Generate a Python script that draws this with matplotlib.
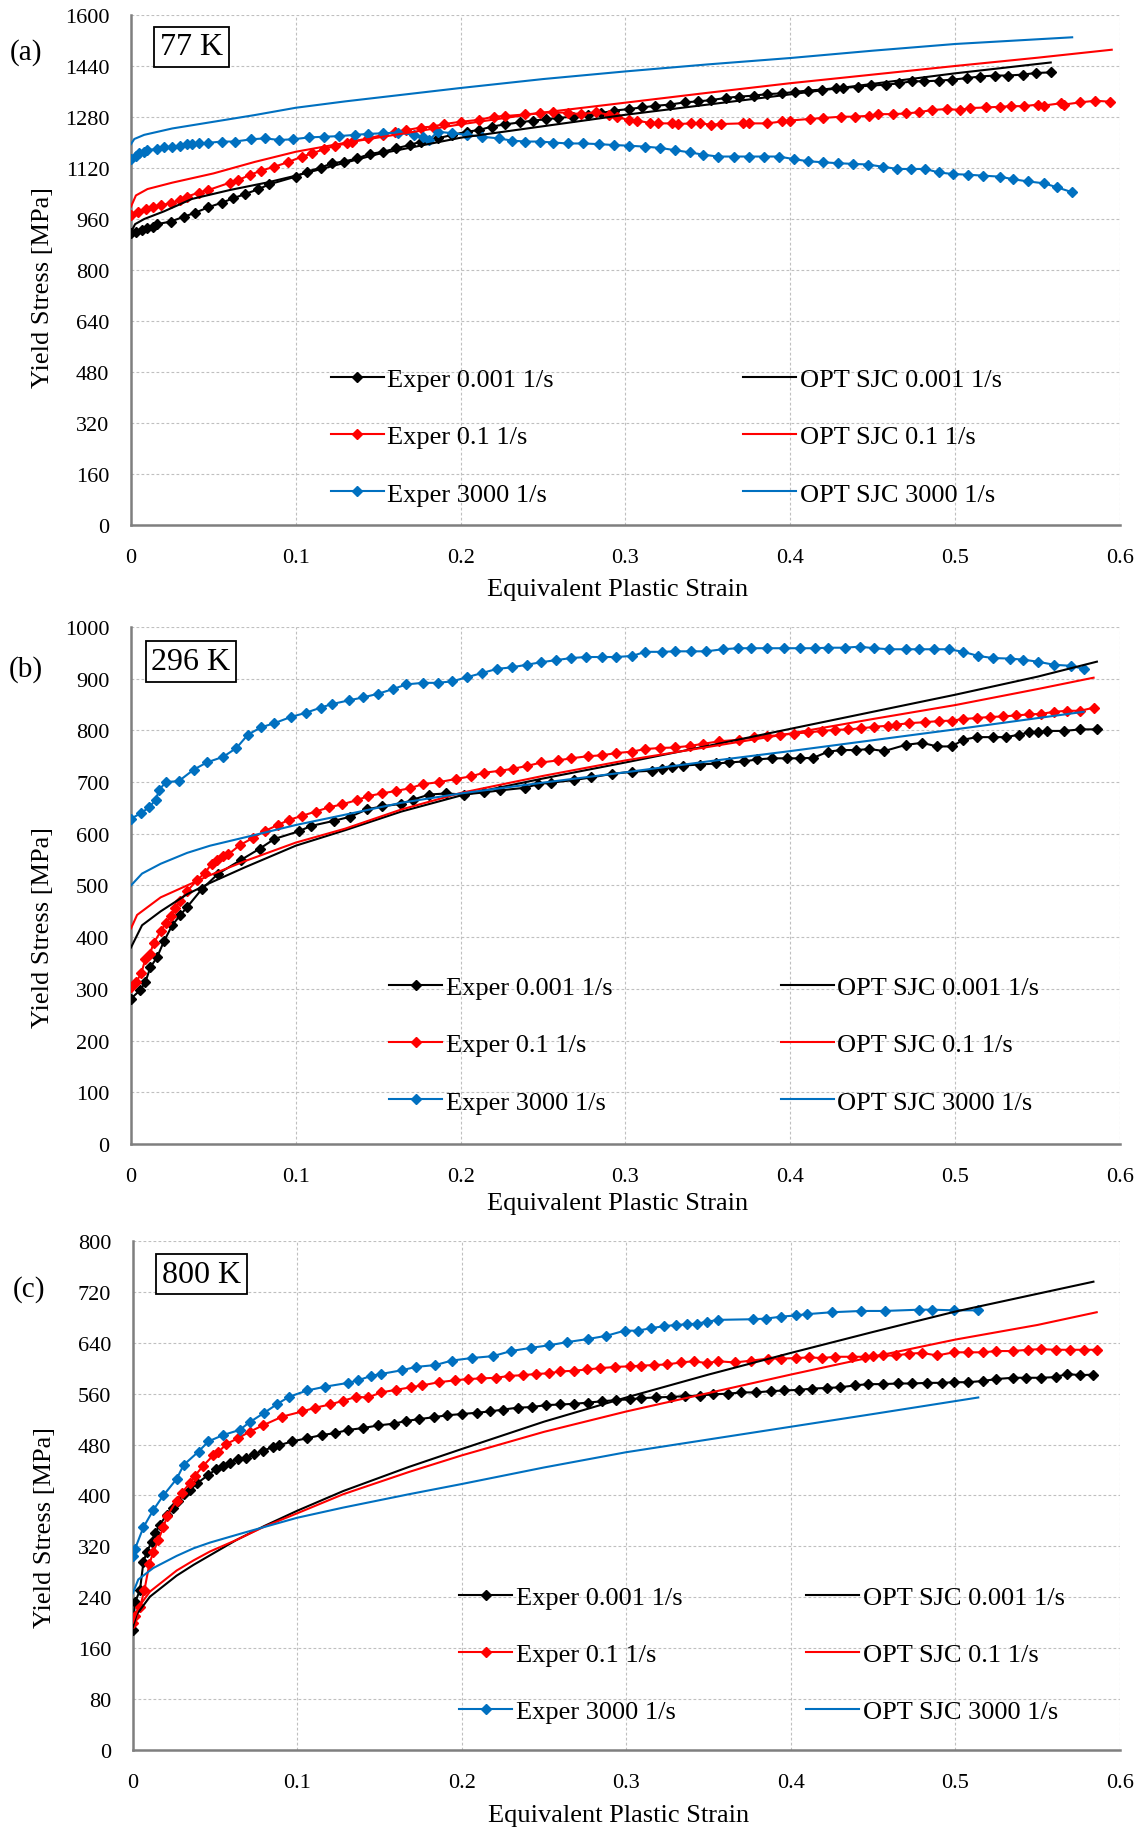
import matplotlib
matplotlib.use('Agg')
import matplotlib.pyplot as plt

plt.rcParams['font.family'] = ['Liberation Serif', 'DejaVu Serif']

# ---------------- data ----------------
xtick_vals = [0, 0.1, 0.2, 0.3, 0.4, 0.5, 0.6]
xtick_labels = ['0', '0.1', '0.2', '0.3', '0.4', '0.5', '0.6']

series_names = ['Exper 0.001 1/s', 'Exper 0.1 1/s', 'Exper 3000 1/s',
                'OPT SJC 0.001 1/s', 'OPT SJC 0.1 1/s', 'OPT SJC 3000 1/s']

# (a) 77 K
a_exp001_x = [0, 0.003, 0.0065, 0.01, 0.0135, 0.016, 0.024, 0.032, 0.039, 0.047, 0.055, 0.062, 0.069, 0.077, 0.084,
              0.1, 0.107, 0.115, 0.122, 0.129, 0.137, 0.145, 0.153, 0.161, 0.169, 0.176, 0.186, 0.195, 0.204, 0.211,
              0.219, 0.227, 0.236, 0.244, 0.252, 0.259, 0.268, 0.277, 0.285, 0.293, 0.302, 0.31, 0.318, 0.327, 0.336,
              0.344, 0.352, 0.361, 0.369, 0.378, 0.386, 0.395, 0.403, 0.411, 0.419, 0.428, 0.432, 0.441, 0.449, 0.458,
              0.466, 0.474, 0.481, 0.49, 0.498, 0.507, 0.515, 0.524, 0.532, 0.541, 0.549, 0.558]
a_exp001_y = [916, 921, 926, 932, 937, 945, 953, 968, 981, 998, 1012, 1026, 1039, 1054, 1070,
              1094, 1110, 1122, 1136, 1141, 1151, 1165, 1172, 1183, 1193, 1204, 1214, 1225, 1235, 1240,
              1251, 1258, 1264, 1270, 1274, 1278, 1282, 1287, 1293, 1301, 1306, 1311, 1316, 1320, 1327,
              1330, 1334, 1341, 1345, 1348, 1353, 1355, 1360, 1364, 1367, 1372, 1372, 1376, 1380, 1382,
              1387, 1393, 1393, 1395, 1398, 1403, 1408, 1411, 1411, 1414, 1419, 1421]
a_exp01_x = [0, 0.004, 0.009, 0.0135, 0.018, 0.024, 0.03, 0.034, 0.041, 0.047, 0.06, 0.065, 0.072, 0.079, 0.087,
             0.095, 0.104, 0.11, 0.117, 0.124, 0.131, 0.134, 0.144, 0.153, 0.16, 0.167, 0.176, 0.183, 0.19, 0.2,
             0.211, 0.22, 0.227, 0.239, 0.248, 0.256, 0.265, 0.273, 0.282, 0.29, 0.295, 0.302, 0.307, 0.315, 0.32,
             0.328, 0.332, 0.34, 0.345, 0.352, 0.358, 0.371, 0.375, 0.386, 0.395, 0.4, 0.412, 0.42, 0.431, 0.439,
             0.448, 0.453, 0.462, 0.47, 0.478, 0.486, 0.495, 0.503, 0.509, 0.519, 0.527, 0.534, 0.542, 0.55, 0.554,
             0.564, 0.566, 0.576, 0.585, 0.594]
a_exp01_y = [974, 984, 994, 1000, 1005, 1010, 1021, 1031, 1044, 1052, 1075, 1083, 1099, 1113, 1125,
             1139, 1157, 1167, 1180, 1191, 1198, 1204, 1214, 1225, 1235, 1240, 1248, 1251, 1259, 1266,
             1272, 1282, 1284, 1289, 1293, 1296, 1294, 1290, 1296, 1288, 1280, 1272, 1270, 1262, 1261,
             1261, 1259, 1261, 1261, 1257, 1259, 1261, 1261, 1261, 1267, 1270, 1275, 1278, 1282, 1282,
             1285, 1290, 1290, 1292, 1296, 1303, 1306, 1303, 1309, 1311, 1313, 1315, 1315, 1320, 1317,
             1324, 1320, 1327, 1332, 1329]
a_exp3000_x = [0, 0.003, 0.005, 0.008, 0.01, 0.016, 0.02, 0.025, 0.03, 0.034, 0.037, 0.041, 0.047, 0.055, 0.063,
               0.073, 0.081, 0.09, 0.098, 0.108, 0.117, 0.126, 0.136, 0.144, 0.153, 0.162, 0.172, 0.177, 0.181,
               0.186, 0.195, 0.204, 0.213, 0.223, 0.231, 0.239, 0.248, 0.256, 0.265, 0.274, 0.284, 0.293, 0.302,
               0.312, 0.321, 0.33, 0.339, 0.347, 0.356, 0.366, 0.375, 0.384, 0.393, 0.402, 0.411, 0.42, 0.429,
               0.438, 0.447, 0.456, 0.465, 0.473, 0.482, 0.49, 0.499, 0.508, 0.517, 0.527, 0.535, 0.544, 0.554,
               0.562, 0.571]
a_exp3000_y = [1148, 1159, 1167, 1172, 1178, 1180, 1186, 1188, 1190, 1195, 1196, 1198, 1200, 1204, 1204,
               1211, 1214, 1209, 1211, 1217, 1219, 1221, 1225, 1228, 1230, 1232, 1225, 1219, 1209,
               1235, 1230, 1225, 1219, 1214, 1207, 1204, 1204, 1201, 1198, 1198, 1196, 1193, 1191,
               1188, 1184, 1177, 1170, 1163, 1157, 1157, 1157, 1157, 1157, 1149, 1142, 1139, 1136,
               1134, 1132, 1125, 1118, 1118, 1118, 1107, 1102, 1100, 1097, 1094, 1086, 1079, 1073,
               1060, 1045]
a_opt001_x = [0, 0.0025, 0.008, 0.02, 0.037, 0.06, 0.083, 0.1, 0.15, 0.2, 0.25, 0.3, 0.35, 0.4, 0.45, 0.5, 0.558]
a_opt001_y = [920, 945, 961, 985, 1024, 1052, 1076, 1097, 1165, 1216, 1252, 1288, 1320, 1352, 1385, 1418, 1452]
a_opt01_x = [0, 0.003, 0.01, 0.025, 0.05, 0.075, 0.1, 0.13, 0.16, 0.2, 0.25, 0.3, 0.35, 0.4, 0.45, 0.5, 0.55, 0.595]
a_opt01_y = [1000, 1035, 1055, 1075, 1104, 1140, 1172, 1200, 1225, 1258, 1295, 1326, 1357, 1387, 1414, 1441, 1467, 1492]
a_opt3000_x = [0, 0.002, 0.008, 0.025, 0.05, 0.075, 0.1, 0.13, 0.15, 0.2, 0.25, 0.3, 0.35, 0.4, 0.45, 0.5, 0.571]
a_opt3000_y = [1196, 1212, 1225, 1245, 1266, 1287, 1310, 1330, 1342, 1372, 1400, 1424, 1446, 1466, 1489, 1510, 1531]

# (b) 296 K
b_exp001_x = [0, 0.0057, 0.0087, 0.0118, 0.0158, 0.02, 0.025, 0.03, 0.034, 0.043, 0.053, 0.067, 0.078, 0.087,
              0.102, 0.109, 0.123, 0.133, 0.143, 0.152, 0.164, 0.171, 0.181, 0.191, 0.202, 0.214, 0.224, 0.239,
              0.247, 0.255, 0.269, 0.279, 0.292, 0.304, 0.316, 0.322, 0.328, 0.335, 0.345, 0.355, 0.363, 0.372,
              0.38, 0.389, 0.398, 0.406, 0.414, 0.423, 0.431, 0.44, 0.448, 0.457, 0.47, 0.48, 0.489, 0.498,
              0.505, 0.513, 0.523, 0.531, 0.539, 0.545, 0.55, 0.556, 0.566, 0.576, 0.586]
b_exp001_y = [281, 298, 313, 342, 361, 392, 423, 443, 458, 493, 523, 550, 571, 590,
              605, 615, 625, 633, 647, 653, 658, 666, 676, 678, 676, 680, 684, 689,
              696, 699, 704, 709, 716, 720, 722, 726, 729, 732, 734, 736, 738, 740,
              744, 746, 746, 746, 747, 759, 762, 762, 764, 760, 772, 776, 769, 769,
              782, 787, 787, 787, 792, 796, 796, 799, 799, 802, 802]
b_exp01_x = [0, 0.003, 0.0063, 0.0087, 0.0114, 0.0138, 0.018, 0.021, 0.024, 0.027, 0.03, 0.034, 0.04, 0.045,
             0.049, 0.052, 0.056, 0.059, 0.066, 0.074, 0.081, 0.089, 0.096, 0.104, 0.112, 0.12, 0.128, 0.137,
             0.144, 0.152, 0.161, 0.169, 0.177, 0.187, 0.197, 0.206, 0.214, 0.224, 0.232, 0.24, 0.249, 0.259,
             0.267, 0.277, 0.286, 0.294, 0.304, 0.312, 0.321, 0.33, 0.339, 0.347, 0.357, 0.369, 0.378, 0.386,
             0.394, 0.402, 0.411, 0.419, 0.427, 0.435, 0.443, 0.451, 0.459, 0.464, 0.472, 0.482, 0.49, 0.498,
             0.505, 0.513, 0.521, 0.529, 0.537, 0.545, 0.552, 0.56, 0.568, 0.576, 0.584]
b_exp01_y = [303, 313, 330, 358, 367, 389, 411, 427, 440, 457, 470, 489, 510, 525,
             542, 550, 557, 560, 578, 592, 605, 617, 627, 635, 643, 651, 657, 665,
             673, 678, 683, 688, 696, 700, 706, 711, 718, 722, 726, 731, 738, 742,
             746, 750, 752, 756, 759, 764, 766, 767, 770, 774, 779, 782, 787, 789,
             791, 794, 796, 799, 801, 802, 804, 807, 809, 811, 814, 816, 818, 819,
             822, 824, 826, 827, 829, 831, 832, 836, 838, 838, 844]
b_exp3000_x = [0, 0.006, 0.011, 0.015, 0.017, 0.021, 0.029, 0.038, 0.046, 0.056, 0.064, 0.071, 0.079, 0.087,
               0.097, 0.106, 0.115, 0.122, 0.132, 0.141, 0.15, 0.159, 0.167, 0.177, 0.186, 0.195, 0.204, 0.213,
               0.222, 0.231, 0.24, 0.249, 0.258, 0.267, 0.276, 0.286, 0.294, 0.304, 0.312, 0.322, 0.33, 0.34,
               0.349, 0.359, 0.368, 0.376, 0.386, 0.396, 0.406, 0.415, 0.423, 0.433, 0.442, 0.451, 0.46, 0.47,
               0.478, 0.487, 0.496, 0.505, 0.514, 0.523, 0.533, 0.541, 0.55, 0.56, 0.57, 0.578]
b_exp3000_y = [629, 640, 651, 666, 684, 700, 702, 724, 738, 749, 766, 792, 806, 814,
               826, 834, 844, 851, 858, 864, 871, 880, 889, 892, 892, 895, 903, 911,
               919, 922, 927, 932, 936, 940, 942, 942, 942, 944, 952, 952, 953, 953,
               953, 957, 959, 959, 959, 959, 959, 959, 960, 960, 962, 959, 957, 957,
               957, 957, 957, 952, 944, 940, 939, 937, 933, 927, 925, 919]
b_opt001_x = [0, 0.0067, 0.018, 0.034, 0.048, 0.069, 0.1, 0.13, 0.164, 0.2, 0.25, 0.3, 0.35, 0.4, 0.45, 0.5, 0.55, 0.586]
b_opt001_y = [380, 423, 450, 483, 505, 535, 577, 607, 643, 674, 707, 738, 770, 803, 836, 869, 904, 933]
b_opt01_x = [0, 0.0037, 0.018, 0.034, 0.048, 0.069, 0.1, 0.13, 0.164, 0.2, 0.25, 0.3, 0.35, 0.4, 0.45, 0.5, 0.55, 0.584]
b_opt01_y = [417, 443, 477, 500, 520, 547, 583, 610, 647, 679, 712, 742, 768, 794, 822, 849, 880, 902]
b_opt3000_x = [0, 0.0067, 0.018, 0.034, 0.048, 0.069, 0.1, 0.13, 0.164, 0.2, 0.25, 0.3, 0.35, 0.4, 0.45, 0.5, 0.578]
b_opt3000_y = [500, 523, 542, 563, 577, 593, 617, 637, 660, 678, 699, 719, 740, 760, 781, 802, 836]

# (c) 800 K
c_exp001_x = [0, 0.0014, 0.0044, 0.0065, 0.0085, 0.0115, 0.0135, 0.0166, 0.0206, 0.0242, 0.0277, 0.031, 0.0347,
              0.039, 0.0459, 0.0505, 0.055, 0.059, 0.064, 0.069, 0.074, 0.079, 0.085, 0.089, 0.097, 0.106, 0.115,
              0.123, 0.131, 0.14, 0.149, 0.159, 0.166, 0.174, 0.183, 0.191, 0.2, 0.209, 0.217, 0.225, 0.234,
              0.243, 0.251, 0.26, 0.268, 0.277, 0.285, 0.294, 0.302, 0.309, 0.318, 0.327, 0.336, 0.345, 0.353,
              0.362, 0.37, 0.379, 0.388, 0.396, 0.405, 0.413, 0.422, 0.43, 0.439, 0.447, 0.456, 0.465, 0.474,
              0.483, 0.492, 0.499, 0.508, 0.517, 0.525, 0.535, 0.543, 0.552, 0.561, 0.568, 0.576, 0.584]
c_exp001_y = [189, 232, 251, 295, 311, 327, 341, 354, 370, 381, 392, 403, 408,
              419, 432, 441, 446, 451, 458, 459, 465, 470, 476, 479, 485, 490, 495,
              498, 503, 506, 510, 513, 517, 520, 523, 526, 528, 530, 532, 535, 538,
              539, 542, 543, 544, 546, 548, 550, 551, 553, 554, 555, 556, 557, 559,
              560, 562, 562, 564, 565, 566, 568, 569, 570, 573, 575, 575, 576, 576,
              577, 577, 578, 578, 580, 583, 585, 585, 585, 586, 591, 589, 590]
c_exp01_x = [0, 0.0014, 0.0044, 0.0071, 0.0101, 0.0125, 0.0156, 0.0186, 0.021, 0.0267, 0.0297, 0.0347, 0.0378,
             0.043, 0.0489, 0.052, 0.057, 0.064, 0.071, 0.079, 0.091, 0.103, 0.111, 0.12, 0.128, 0.136, 0.143,
             0.151, 0.16, 0.169, 0.176, 0.186, 0.196, 0.204, 0.212, 0.221, 0.229, 0.237, 0.245, 0.253, 0.26,
             0.268, 0.276, 0.284, 0.293, 0.302, 0.309, 0.317, 0.325, 0.333, 0.341, 0.349, 0.356, 0.366, 0.376,
             0.386, 0.394, 0.403, 0.411, 0.419, 0.427, 0.437, 0.445, 0.45, 0.456, 0.464, 0.472, 0.48, 0.489,
             0.499, 0.508, 0.517, 0.525, 0.535, 0.544, 0.552, 0.561, 0.57, 0.578, 0.586]
c_exp01_y = [200, 211, 224, 251, 292, 311, 330, 350, 368, 392, 404, 419, 431,
             447, 463, 468, 481, 490, 500, 510, 524, 532, 538, 543, 549, 555, 554,
             562, 566, 570, 573, 578, 581, 583, 584, 585, 588, 589, 591, 592, 595,
             596, 598, 600, 602, 603, 604, 605, 606, 609, 611, 608, 611, 609, 612,
             615, 615, 616, 617, 616, 618, 618, 618, 619, 620, 620, 623, 624, 620,
             625, 625, 625, 627, 627, 629, 630, 629, 629, 629, 629]
c_exp3000_x = [0, 0.0014, 0.0065, 0.0125, 0.0186, 0.0267, 0.031, 0.04, 0.046, 0.055, 0.065, 0.071, 0.08, 0.088,
               0.095, 0.106, 0.117, 0.131, 0.137, 0.145, 0.151, 0.164, 0.172, 0.184, 0.194, 0.206, 0.219, 0.23,
               0.242, 0.253, 0.264, 0.277, 0.288, 0.299, 0.307, 0.315, 0.323, 0.33, 0.337, 0.343, 0.349, 0.356,
               0.377, 0.385, 0.394, 0.403, 0.41, 0.425, 0.443, 0.457, 0.478, 0.486, 0.499, 0.514]
c_exp3000_y = [305, 316, 350, 377, 400, 426, 448, 469, 485, 495, 503, 515, 530, 544,
               555, 565, 571, 577, 581, 588, 591, 597, 602, 605, 612, 616, 619, 627,
               632, 636, 641, 646, 651, 659, 659, 663, 666, 668, 669, 670, 673, 676,
               677, 678, 681, 683, 685, 688, 690, 690, 692, 692, 691, 691]
c_opt001_x = [0, 0.0024, 0.0105, 0.0267, 0.037, 0.047, 0.063, 0.08, 0.1, 0.128, 0.168, 0.2, 0.25, 0.3, 0.35, 0.4,
              0.45, 0.5, 0.55, 0.584]
c_opt001_y = [192, 213, 241, 274, 291, 306, 330, 352, 376, 407, 445, 473, 516, 554, 590, 624, 657, 689, 717, 736]
c_opt01_x = [0, 0.0034, 0.0105, 0.0267, 0.037, 0.047, 0.063, 0.08, 0.1, 0.128, 0.168, 0.2, 0.25, 0.3, 0.35, 0.4,
             0.45, 0.5, 0.55, 0.586]
c_opt01_y = [200, 224, 249, 282, 298, 312, 330, 351, 372, 402, 437, 463, 500, 532, 561, 590, 618, 645, 668, 688]
c_opt3000_x = [0, 0.0034, 0.0125, 0.0267, 0.037, 0.047, 0.067, 0.1, 0.128, 0.168, 0.2, 0.25, 0.3, 0.35, 0.4,
               0.45, 0.514]
c_opt3000_y = [246, 268, 286, 305, 317, 326, 341, 365, 381, 402, 418, 444, 468, 488, 508, 528, 554]

# ---------------- styling / layout ----------------
colors = ['#000000', '#FF0000', '#0070C0']

panels = [
    dict(tag='(a)', temp='77 K', ymax=1600, ystep=160,
         exp=[(a_exp001_x, a_exp001_y), (a_exp01_x, a_exp01_y), (a_exp3000_x, a_exp3000_y)],
         opt=[(a_opt001_x, a_opt001_y), (a_opt01_x, a_opt01_y), (a_opt3000_x, a_opt3000_y)],
         rect=[0.1145, 0.7125, 0.8645, 0.2786], tagpos=(0.0225, 0.9713), box=(0.0612, 0.938),
         leg=(0.202, 0.619, 0.174), ylab_y=0.468, xlab_y=-0.103),
    dict(tag='(b)', temp='296 K', ymax=1000, ystep=100,
         exp=[(b_exp001_x, b_exp001_y), (b_exp01_x, b_exp01_y), (b_exp3000_x, b_exp3000_y)],
         opt=[(b_opt001_x, b_opt001_y), (b_opt01_x, b_opt01_y), (b_opt3000_x, b_opt3000_y)],
         rect=[0.1145, 0.3747, 0.8645, 0.2823], tagpos=(0.0225, 0.6346), box=(0.0607, 0.933),
         leg=(0.261, 0.657, 0.192), ylab_y=0.42, xlab_y=-0.0925),
    dict(tag='(c)', temp='800 K', ymax=800, ystep=80,
         exp=[(c_exp001_x, c_exp001_y), (c_exp01_x, c_exp01_y), (c_exp3000_x, c_exp3000_y)],
         opt=[(c_opt001_x, c_opt001_y), (c_opt01_x, c_opt01_y), (c_opt3000_x, c_opt3000_y)],
         rect=[0.1160, 0.0437, 0.8628, 0.278], tagpos=(0.0255, 0.2955), box=(0.0694, 0.935),
         leg=(0.331, 0.682, 0.188), ylab_y=0.44, xlab_y=-0.106),
]

fig = plt.figure(figsize=(11.44, 18.31), dpi=100)

for p in panels:
    ax = fig.add_axes(p['rect'])
    exp_handles = []
    opt_handles = []
    for (xs, ys), col in zip(p['exp'], colors):
        h, = ax.plot(xs, ys, color=col, lw=1.5, marker='D', ms=5, mec=col, mfc=col, zorder=3)
        exp_handles.append(h)
    for (xs, ys), col in zip(p['opt'], colors):
        h, = ax.plot(xs, ys, color=col, lw=1.5, zorder=4)
        opt_handles.append(h)

    ax.set_xlim(0, 0.6)
    ax.set_ylim(0, p['ymax'])
    ax.set_xticks(xtick_vals)
    ax.set_xticklabels(xtick_labels)
    yt = list(range(0, p['ymax'] + 1, p['ystep']))
    ax.set_yticks(yt)
    ax.tick_params(axis='x', length=0, pad=16.5, labelsize=16)
    ax.tick_params(axis='y', length=0, pad=15.5, labelsize=16)
    ax.grid(True, color='#BFBFBF', lw=0.8, ls=(0, (2.5, 2)))
    ax.set_axisbelow(True)
    for s in ['top', 'right']:
        ax.spines[s].set_visible(False)
    for s in ['left', 'bottom']:
        ax.spines[s].set_color('#7F7F7F')
        ax.spines[s].set_linewidth(1.8)

    ax.set_xlabel('Equivalent Plastic Strain', fontsize=19)
    ax.xaxis.set_label_coords(0.492, p['xlab_y'])
    ax.set_ylabel('Yield Stress [MPa]', fontsize=19)
    ax.yaxis.set_label_coords(-0.078, p['ylab_y'])

    ax.text(p['box'][0], p['box'][1], p['temp'], transform=ax.transAxes, fontsize=23,
            ha='center', va='center', zorder=6,
            bbox=dict(boxstyle='square,pad=0.18', fc='white', ec='black', lw=1.3))
    fig.text(p['tagpos'][0], p['tagpos'][1], p['tag'], fontsize=21, ha='center', va='center')

    lx1, lx2, ly = p['leg']
    common = dict(loc='center left', frameon=False, fontsize=19, handlelength=2.0,
                  handletextpad=0.15, labelspacing=1.28, borderpad=0, borderaxespad=0)
    leg1 = ax.legend(exp_handles, series_names[:3], bbox_to_anchor=(lx1, ly), **common)
    ax.add_artist(leg1)
    ax.legend(opt_handles, series_names[3:], bbox_to_anchor=(lx2, ly), **common)

fig.savefig('out.png', dpi=100)
